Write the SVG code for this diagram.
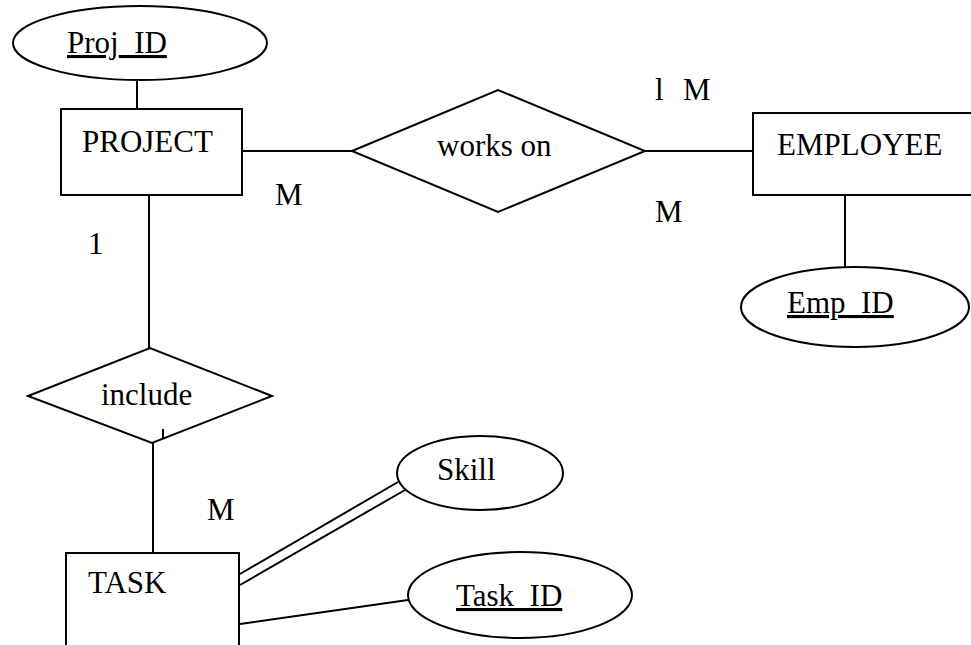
<svg xmlns="http://www.w3.org/2000/svg" width="971" height="645" viewBox="0 0 971 645">
<style>
  .shape { fill: #fff; stroke: #000; stroke-width: 2; }
  .ln { stroke: #000; stroke-width: 2; fill: none; }
  text { font-family: "Liberation Serif", "Times New Roman", serif; font-size: 31px; fill: #000; }
  .key { text-decoration: underline; }
</style>
<rect width="971" height="645" fill="#fff"/>
<g id="connectors">
  <line class="ln" x1="137" y1="80" x2="137" y2="109"/>
  <line class="ln" x1="242" y1="151" x2="352" y2="151"/>
  <line class="ln" x1="645" y1="151" x2="753" y2="151"/>
  <line class="ln" x1="845" y1="195" x2="845" y2="267"/>
  <line class="ln" x1="149" y1="195" x2="149" y2="348"/>
  <line class="ln" x1="153" y1="443" x2="153" y2="553"/>
  <line class="ln" x1="240" y1="574" x2="398" y2="482"/>
  <line class="ln" x1="240" y1="585" x2="405" y2="490"/>
  <line class="ln" x1="240" y1="624" x2="408" y2="600"/>
</g>
<g id="labels">
  <text x="275" y="205">M</text>
  <text x="655" y="100">l</text>
  <text x="683" y="100">M</text>
  <text x="655" y="222">M</text>
  <text x="88" y="254">1</text>
  <text x="207" y="520">M</text>
</g>
<g id="proj_id">
  <ellipse class="shape" cx="140" cy="43" rx="127" ry="37"/>
  <text class="key" x="67" y="53">Proj_ID</text>
</g>
<g id="project">
  <rect class="shape" x="61" y="109" width="181" height="86"/>
  <text x="82" y="152">PROJECT</text>
</g>
<g id="works_on">
  <polygon class="shape" points="352,151 498,90 645,151 498,212"/>
  <text x="437" y="156">works on</text>
</g>
<g id="employee">
  <rect class="shape" x="753" y="113" width="230" height="82"/>
  <text x="777" y="155">EMPLOYEE</text>
</g>
<g id="emp_id">
  <ellipse class="shape" cx="855" cy="307" rx="114" ry="40"/>
  <text class="key" x="787" y="313">Emp_ID</text>
</g>
<g id="include">
  <polygon class="shape" points="28,396 150,348 272,396 152,443"/>
  <text x="101" y="405">include</text>
  <line class="ln" x1="163" y1="429" x2="163" y2="438" stroke-width="1.2"/>
</g>
<g id="task">
  <rect class="shape" x="66" y="553" width="173" height="110"/>
  <text x="88" y="593">TASK</text>
</g>
<g id="skill">
  <ellipse class="shape" cx="480" cy="473" rx="83" ry="37"/>
  <text x="437" y="480">Skill</text>
</g>
<g id="task_id">
  <ellipse class="shape" cx="520" cy="595" rx="112" ry="43"/>
  <text class="key" x="456" y="606">Task_ID</text>
</g>
</svg>
